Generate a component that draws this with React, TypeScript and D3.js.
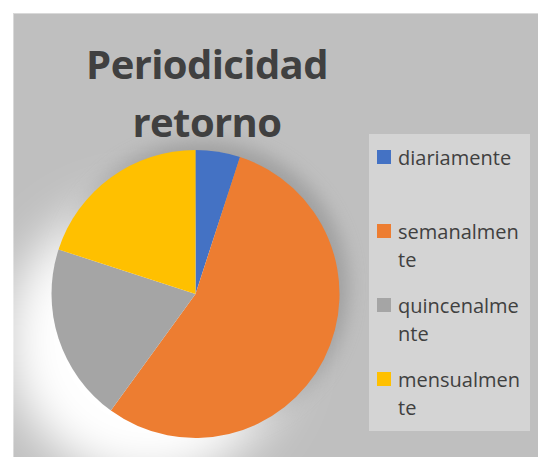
import React, { useEffect, useRef } from 'react';
import * as d3 from 'd3';

const categories = ['diariamente', 'semanalmente', 'quincenalmente', 'mensualmente'];
const values = [1, 11, 4, 4];
const colors = ['#4472C4', '#ED7D31', '#A5A5A5', '#FFC000'];
const legendLines = [['diariamente'], ['semanalmen', 'te'], ['quincenalme', 'nte'], ['mensualmen', 'te']];
const titleLines = ['Periodicidad', 'retorno'];

const App: React.FC = () => {
    const svgRef = useRef<SVGSVGElement>(null);

    const width = 538;
    const height = 457;

    useEffect(() => {
        if (!svgRef.current) return;
        const svg = d3.select(svgRef.current);
        svg.selectAll('*').remove();

        const cx = 195.5;
        const cy = 294;
        const radius = 144;

        const defs = svg.append('defs');
        defs.append('filter').attr('id', 'glow').attr('x', '-50%').attr('y', '-50%').attr('width', '200%').attr('height', '200%')
            .append('feGaussianBlur').attr('stdDeviation', 24);
        defs.append('filter').attr('id', 'shade').attr('x', '-50%').attr('y', '-50%').attr('width', '200%').attr('height', '200%')
            .append('feGaussianBlur').attr('stdDeviation', 9);
        defs.append('clipPath').attr('id', 'area')
            .append('rect').attr('x', 13).attr('y', 13).attr('width', width - 13).attr('height', height - 13);

        // chart area
        svg.append('rect')
            .attr('x', 13.5).attr('y', 13.5)
            .attr('width', width).attr('height', height)
            .attr('fill', '#bfbfbf')
            .attr('stroke', '#d9d9d9');

        // soft shadow / light behind the pie
        const bg = svg.append('g').attr('clip-path', 'url(#area)');
        bg.append('circle')
            .attr('cx', cx + 7).attr('cy', cy - 7).attr('r', radius + 2)
            .attr('fill', '#8c8c8c').attr('opacity', 0.6)
            .attr('filter', 'url(#shade)');
        bg.append('circle')
            .attr('cx', cx - 48).attr('cy', cy + 46).attr('r', radius - 4)
            .attr('fill', '#ffffff')
            .attr('filter', 'url(#glow)');

        // title
        const title = svg.append('text')
            .attr('text-anchor', 'middle')
            .attr('font-family', 'Open Sans')
            .attr('font-weight', 'bold')
            .attr('font-size', 40)
            .attr('letter-spacing', -0.6)
            .attr('fill', '#404040');
        titleLines.forEach((t, i) => {
            title.append('tspan').attr('x', 207).attr('y', 79 + i * 58).text(t);
        });

        // pie
        const pie = d3.pie<number>().sort(null).value(d => d);
        const arc = d3.arc<d3.PieArcDatum<number>>().innerRadius(0).outerRadius(radius);

        svg.append('g')
            .attr('transform', `translate(${cx},${cy})`)
            .selectAll('path')
            .data(pie(values))
            .join('path')
            .attr('d', arc)
            .attr('fill', (d, i) => colors[i]);

        // legend
        svg.append('rect')
            .attr('x', 369).attr('y', 134)
            .attr('width', 161).attr('height', 297)
            .attr('fill', '#d4d4d4');

        const yLegend = d3.scalePoint<string>()
            .domain(categories)
            .range([150, 372]);

        const items = svg.append('g')
            .selectAll('g')
            .data(categories)
            .join('g')
            .attr('transform', d => `translate(377,${yLegend(d)})`);

        items.append('rect')
            .attr('width', 14).attr('height', 14)
            .attr('fill', (d, i) => colors[i]);

        items.append('text')
            .attr('font-family', 'Open Sans')
            .attr('font-size', 20)
            .attr('fill', '#404040')
            .each(function (d, i) {
                legendLines[i].forEach((line, j) => {
                    d3.select(this).append('tspan')
                        .attr('x', 21)
                        .attr('y', 15 + j * 28)
                        .text(line);
                });
            });
    }, []);

    return (
        <svg ref={svgRef} width={width} height={height} style={{ position: 'absolute', left: 0, top: 0 }}></svg>
    );
};

export default App;
